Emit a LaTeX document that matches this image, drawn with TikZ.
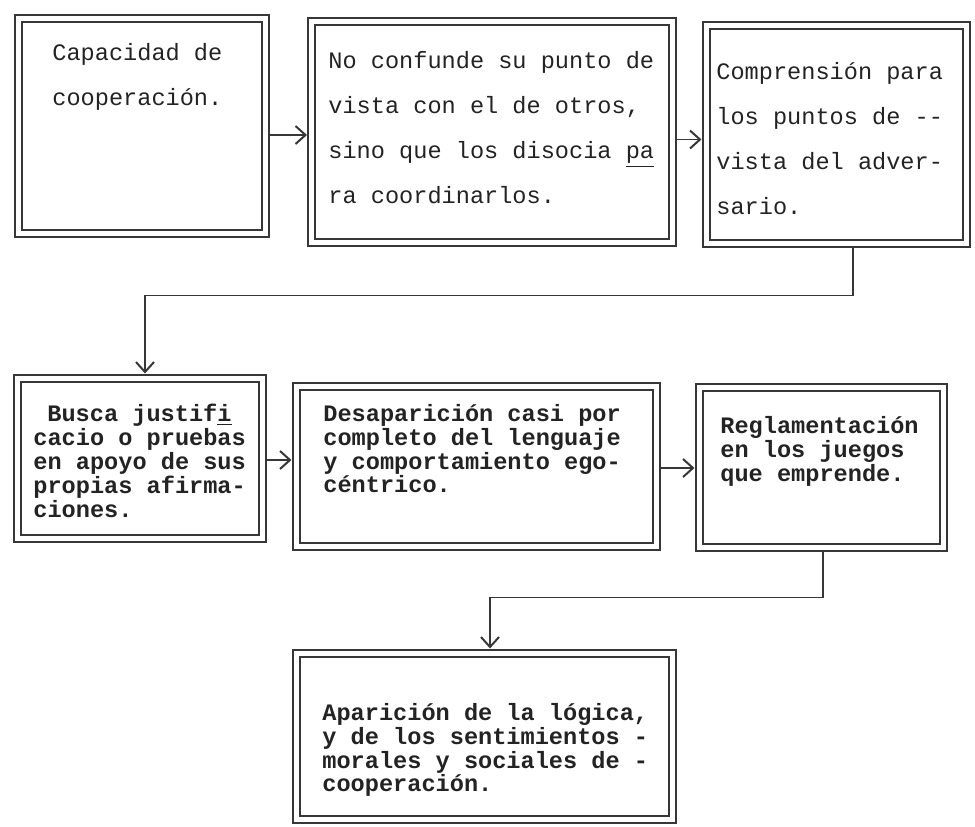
\documentclass[tikz,border=0pt]{standalone}
\usepackage{fontspec}
\setmonofont{Liberation Mono}
\usepackage{xcolor}
\usetikzlibrary{arrows.meta,calc}
\definecolor{ink}{RGB}{55,55,55}
\definecolor{type}{RGB}{35,35,35}
\tikzset{
	box/.style={
			draw=ink, line width=1pt, double=white, double distance=2.5pt,
			outer sep=2.25pt, inner sep=0pt
		},
	link/.style={
			draw=ink, line width=0.9pt,
			-{Straight Barb[length=5pt,width=9pt,line width=1pt]}
		},
	toptext/.style={
			anchor=north west, inner sep=0pt, align=left, text=type,
			font=\ttfamily\fontsize{11.8}{22.5}\selectfont
		},
	lowtext/.style={
			anchor=north west, inner sep=0pt, align=left, text=type,
			font=\ttfamily\bfseries\fontsize{11.8}{11.9}\selectfont
		}
}

\begin{document}
\begin{tikzpicture}[x=0.5pt, y=-0.5pt]
			\useasboundingbox (0,0) rectangle (975,826);

			\foreach \n/\x/\y/\w/\h in {b1/142/126/123.25/107.5, b2/492/131.5/180.5/110.5, b3/836/134/130/109,
					b4/140/458/122.5/80, b5/476/466/180/80, b6/821/467/122/80, b7/484/736/188/83} {
				\node[box, minimum width=\w pt, minimum height=\h pt] (\n) at (\x, \y) {};
			}

			\node[toptext] (t1) at (52, 43) {Capacidad de\\cooperación.};
			\node[toptext] (t2) at (328, 51) {No confunde su punto de\\vista con el de otros,\\sino que los disocia \underline{pa}\\ra coordinarlos.};
			\node[toptext] (t3) at (716, 62) {Comprensión para\\los puntos de -{}-\\vista del adver-\\sario.};

			\node[lowtext] (t4) at (33, 404) {\hspace*{7pt}Busca justif\underline{i}\\cacio o pruebas\\en apoyo de sus\\propias afirma-\\ciones.};
			\node[lowtext] (t5) at (323, 404) {Desaparición casi por\\completo del lenguaje\\y comportamiento ego-\\céntrico.};
			\node[lowtext] (t6) at (720, 416) {Reglamentación\\en los juegos\\que emprende.};
			\node[lowtext] (t7) at (322, 703) {Aparición de la lógica,\\y de los sentimientos -\\morales y sociales de -\\cooperación.};

			\draw[link] ($(b1.east)+(0,9)$) to ($(b1.east -| b2.west)+(0,9)$);
			\draw[link] ($(b2.east)+(0,8)$) to ($(b2.east -| b3.west)+(0,8)$);
			\draw[link] ([xshift=8.5pt]b3.south) -- ++(0,48) -| ([xshift=2.5pt]b4.north);

			\draw[link] ($(b4.east)+(0,2)$) to ($(b4.east -| b5.west)+(0,2)$);
			\draw[link] ($(b5.east)+(0,2)$) to ($(b5.east -| b6.west)+(0,2)$);
			\draw[link] ([xshift=1pt]b6.south) -- ++(0,46) -| ([xshift=3pt]b7.north);
		\end{tikzpicture}
\end{document}
